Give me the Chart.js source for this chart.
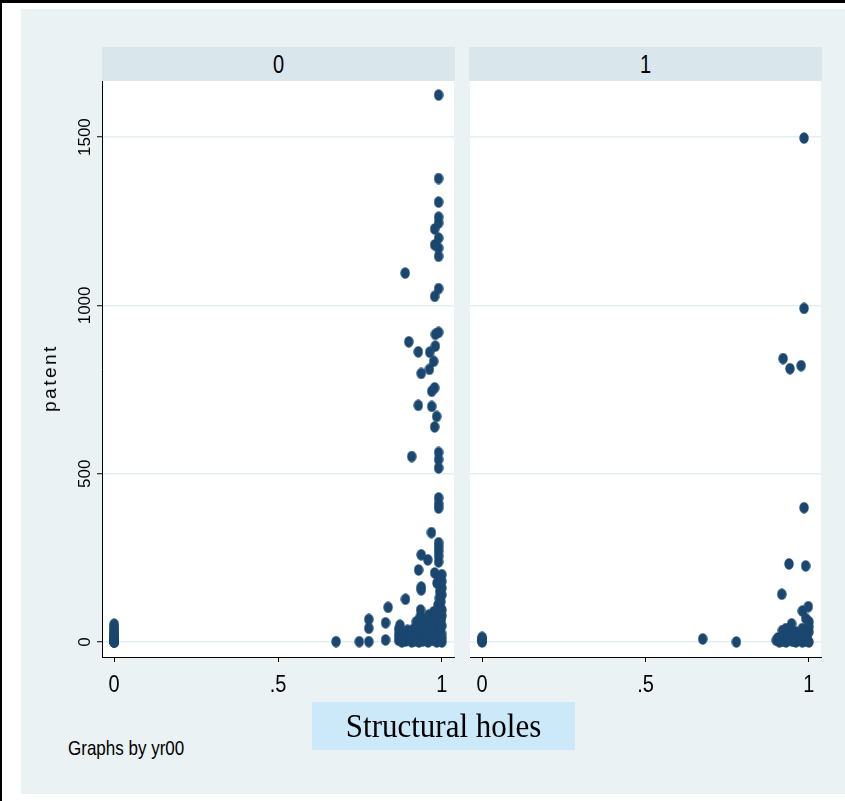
<!DOCTYPE html>
<html>
<head>
<meta charset="utf-8">
<script src="https://cdn.jsdelivr.net/npm/chart.js@4.4.1/dist/chart.umd.min.js"></script>
<style>
  body { margin: 0; width: 845px; height: 801px; background: #fff; position: relative; overflow: hidden;
         font-family: "Liberation Sans", Arial, sans-serif; }
  #frame { position: absolute; left: 0; top: 0; width: 845px; height: 801px; box-sizing: border-box;
           border-top: 3px solid #000; border-left: 2px solid #000; }
  #bg { position: absolute; left: 21px; top: 9px; width: 824px; height: 785px; background: #eaf2f3; }
  .strip { position: absolute; top: 47px; height: 34px; background: #d9e6eb; text-align: center;
           font-size: 20px; line-height: 34px; color: #000; }
  .strip span { display: inline-block; transform: scaleY(1.25); }
  .pane { position: absolute; top: 75px; }
  #ytitle { position: absolute; left: 50px; top: 378px; font-size: 19px; letter-spacing: 2.5px; color: #000;
            transform: translate(-50%, -50%) rotate(-90deg); white-space: nowrap; }
  #xtitle { position: absolute; left: 312px; top: 702px; width: 263px; height: 48px; background: #cce9fa;
            text-align: center; font-family: "Liberation Serif", "Times New Roman", serif; font-size: 31px;
            line-height: 48px; color: #000; }
  #xtitle span { display: inline-block; transform: scaleY(1.1); }
  #note { position: absolute; left: 68px; top: 738px; font-size: 17px; color: #000; transform: scaleY(1.15);
          transform-origin: left top; white-space: nowrap; }
</style>
</head>
<body>
<div id="frame"></div>
<div id="bg"></div>
<div class="strip" style="left:102px;width:353px;"><span>0</span></div>
<div class="strip" style="left:469px;width:353px;"><span>1</span></div>
<div class="pane" style="left:30px;"><canvas id="left" width="430" height="630"></canvas></div>
<div class="pane" style="left:464px;"><canvas id="right" width="363" height="630"></canvas></div>
<div id="ytitle">patent</div>
<div id="xtitle"><span>Structural holes</span></div>
<div id="note">Graphs by yr00</div>

<script>
// yr00 = 0
const holes0 = [
  0, 0, 0, 0, 0, 0, 0, 0, 0, 0, 0, 0, 0, 0, 0, 0, 0, 0, 0,
  0.677, 0.748, 0.777, 0.777, 0.777, 0.828, 0.828, 0.836, 0.889, 0.935, 0.937, 0.937, 0.929, 0.978,
  0.957, 0.937, 0.99, 0.99, 0.99, 0.99, 0.99, 0.968, 0.99, 0.99, 0.99, 0.99, 0.99, 0.99, 0.908,
  0.978, 0.984, 0.969, 0.928, 0.969, 0.978, 0.937, 0.962, 0.975, 0.963, 0.928, 0.98, 0.899, 0.98,
  0.99, 0.978, 0.99, 0.888, 0.99, 0.99, 0.978, 0.99, 0.978, 0.99, 0.99, 0.99, 0.99, 0.99,
  0.868, 0.868, 0.868, 0.872, 0.878, 0.88, 0.884, 0.89, 0.892, 0.895, 0.9, 0.903, 0.908, 0.91,
  0.913, 0.917, 0.92, 0.922, 0.925, 0.927, 0.93, 0.932, 0.934, 0.937, 0.94, 0.942, 0.945, 0.947,
  0.95, 0.952, 0.955, 0.958, 0.96, 0.962, 0.965, 0.967, 0.97, 0.972, 0.975, 0.977, 0.98, 0.982,
  0.984, 0.986, 0.988, 0.99, 0.99, 0.991, 0.992, 0.993, 0.994, 0.995, 0.996, 0.997, 0.998, 0.999,
  1, 1, 1, 1, 1, 1, 1, 1, 1, 0.985, 0.99
];
const patent0 = [
  0, 0, 0, 1, 2, 3, 4, 6, 8, 10, 13, 16, 20, 24, 29, 34, 40, 46, 53,
  1, 1, 1, 41, 67, 6, 57, 103, 127, 95, 155, 163, 214, 205,
  244, 259, 238, 255, 270, 283, 295, 325, 398, 410, 428, 517, 542, 563, 551,
  639, 670, 700, 703, 745, 755, 798, 810, 834, 861, 862, 879, 892, 914,
  920, 1027, 1050, 1096, 1146, 1170, 1180, 1200, 1227, 1245, 1262, 1307, 1377, 1625,
  5, 20, 38, 50, 0, 12, 28, 3, 18, 35, 8, 25, 0, 14,
  38, 4, 22, 60, 10, 45, 0, 30, 75, 15, 52, 3, 35, 68,
  8, 22, 48, 0, 80, 14, 38, 60, 5, 26, 90, 45, 10, 70,
  0, 32, 110, 18, 55, 85, 130, 150, 5, 40, 100, 120, 65, 25,
  0, 12, 48, 78, 95, 140, 160, 180, 200, 175, 190
];

// yr00 = 1
const holes1 = [
  0, 0, 0, 0, 0, 0,
  0.675, 0.778, 0.917, 0.939, 0.99, 0.98, 0.998, 0.947, 0.919, 0.985, 0.921, 0.942, 0.976, 0.985, 0.985,
  0.9, 0.905, 0.91, 0.915, 0.92, 0.925, 0.93, 0.935, 0.94, 0.945, 0.95, 0.955, 0.96, 0.965,
  0.97, 0.975, 0.98, 0.985, 0.99, 0.995, 1, 1, 1, 1, 0.99, 0.96, 0.93, 0.98
];
const patent1 = [
  0, 2, 4, 7, 10, 14,
  9, 0, 142, 232, 226, 92, 105, 54, 34, 399, 842, 812, 821, 991, 1497,
  5, 12, 0, 8, 3, 15, 0, 20, 6, 28, 2, 12, 0, 18,
  5, 10, 0, 25, 4, 15, 0, 30, 45, 60, 70, 30, 40, 40
];

const xTickVals = [0, 0.5, 1];
const xTickText = ['0', '.5', '1'];
const yTickVals = [0, 500, 1000, 1500];
const yTickText = ['0', '500', '1000', '1500'];

const navy = '#1a476f';
const gridColor = '#e4edf1';

// slightly tall marker, like the Stata export
const marker = document.createElement('canvas');
marker.width = 10; marker.height = 12;
(function () {
  const c = marker.getContext('2d');
  c.fillStyle = navy;
  c.beginPath();
  c.ellipse(5, 6, 4.7, 5.7, 0, 0, Math.PI * 2);
  c.fill();
})();

// tick labels in the stretched Stata look
const stataLabels = {
  id: 'stataLabels',
  afterDraw(chart, args, opts) {
    const ctx = chart.ctx;
    ctx.save();
    ctx.fillStyle = '#000';
    ctx.textAlign = 'center';
    ctx.textBaseline = 'middle';
    ctx.font = '20px "Liberation Sans", Arial, sans-serif';
    const xs = chart.scales.x;
    xs.ticks.forEach(t => {
      ctx.save();
      ctx.translate(xs.getPixelForValue(t.value), xs.top + 28);
      ctx.scale(1, 1.2);
      ctx.fillText(t.label, 0, 0);
      ctx.restore();
    });
    if (opts.yLabels) {
      const ys = chart.scales.y;
      ctx.font = '17px "Liberation Sans", Arial, sans-serif';
      ys.ticks.forEach(t => {
        ctx.save();
        ctx.translate(ys.right - 17, ys.getPixelForValue(t.value));
        ctx.rotate(-Math.PI / 2);
        ctx.fillText(t.label, 0, 0);
        ctx.restore();
      });
    }
    ctx.restore();
  }
};

function toPoints(xs, ys) {
  return xs.map((x, i) => ({ x: x, y: ys[i] }));
}

function panel(id, xs, ys, showY) {
  const ctx = document.getElementById(id).getContext('2d');
  return new Chart(ctx, {
    type: 'scatter',
    data: {
      datasets: [{
        data: toPoints(xs, ys),
        pointStyle: marker,
        pointRadius: 5,
        pointHoverRadius: 5,
        backgroundColor: navy,
        borderColor: navy,
        clip: false
      }]
    },
    options: {
      responsive: false,
      animation: false,
      devicePixelRatio: 1,
      layout: { padding: { top: 6, right: 5, left: showY ? 0 : 5, bottom: 0 } },
      plugins: {
        legend: { display: false },
        tooltip: { enabled: false },
        stataLabels: { yLabels: showY }
      },
      scales: {
        x: {
          type: 'linear',
          min: -0.037,
          max: 1.037,
          afterBuildTicks: s => { s.ticks = xTickVals.map(v => ({ value: v })); },
          afterFit: s => { s.height = 48; },
          ticks: { display: false, callback: (v, i) => xTickText[i] },
          grid: { drawOnChartArea: false, drawTicks: true, tickLength: 5, tickColor: '#000', tickWidth: 1 },
          border: { display: true, color: '#000', width: 1 }
        },
        y: {
          type: 'linear',
          min: -44.6,
          max: 1666.7,
          afterBuildTicks: s => { s.ticks = yTickVals.map(v => ({ value: v })); },
          afterFit: s => { s.width = showY ? 72 : 0; },
          ticks: { display: false, callback: (v, i) => yTickText[i] },
          grid: { color: gridColor, lineWidth: 1.5, drawTicks: showY, tickLength: 5, tickColor: '#000', tickWidth: 1 },
          border: { display: showY, color: '#000', width: 1 }
        }
      }
    },
    plugins: [{
      id: 'whiteArea',
      beforeDraw(chart) {
        const a = chart.chartArea;
        chart.ctx.save();
        chart.ctx.fillStyle = '#fff';
        chart.ctx.fillRect(a.left, a.top, a.right - a.left, a.bottom - a.top);
        chart.ctx.restore();
      }
    }, stataLabels]
  });
}

panel('left', holes0, patent0, true);
panel('right', holes1, patent1, false);
</script>
</body>
</html>
